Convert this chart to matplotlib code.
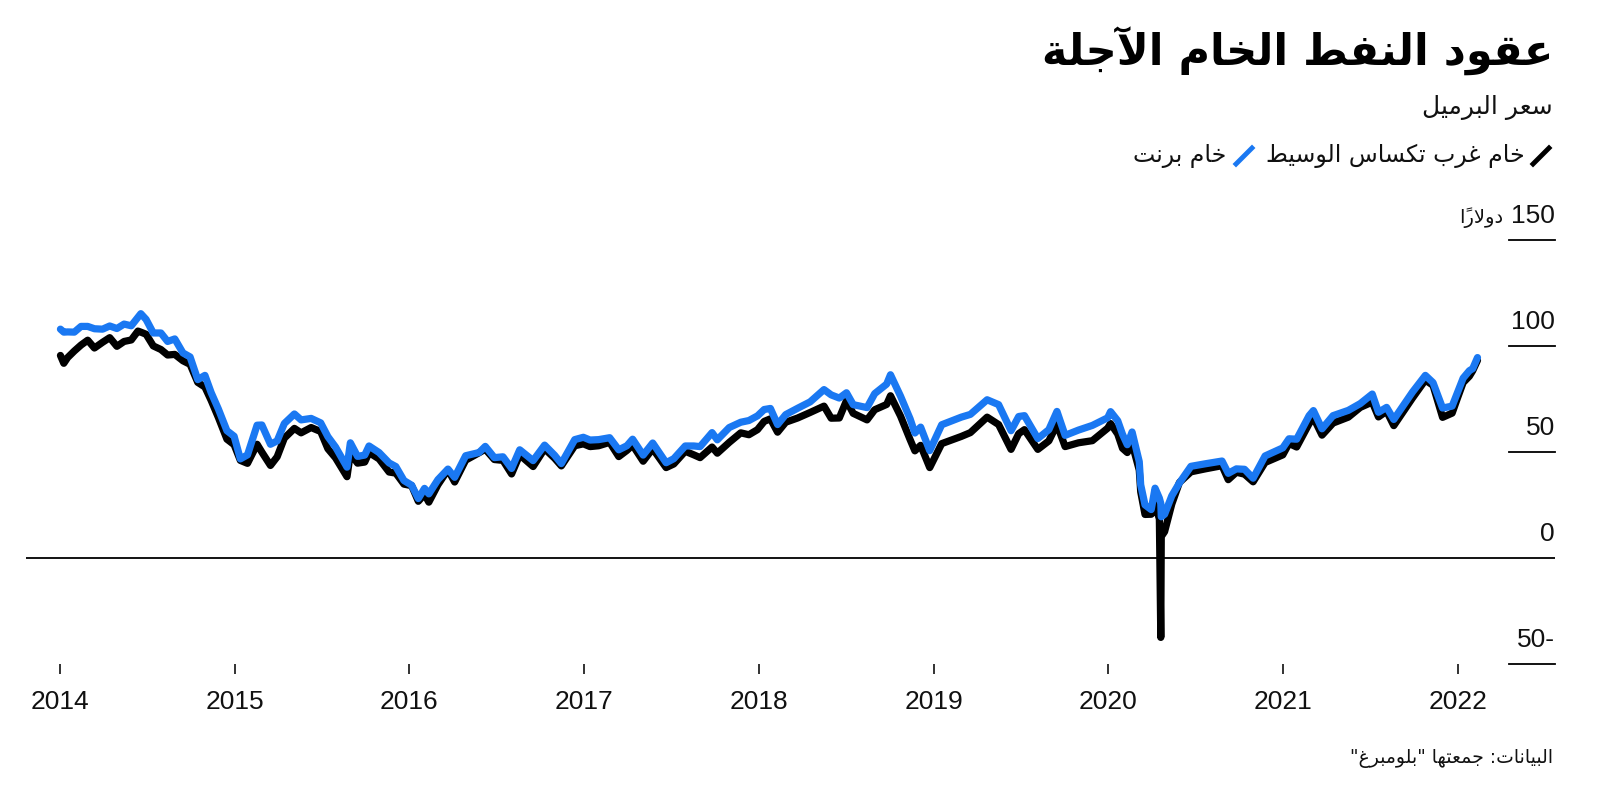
import matplotlib
matplotlib.use("Agg")
import matplotlib.pyplot as plt
import pandas as pd
from matplotlib.lines import Line2D

# ── texts ─────────────────────────────────────
TITLE    = "عقود النفط الخام الآجلة"
SUBTITLE = "سعر البرميل"
NAME_WTI   = "خام غرب تكساس الوسيط"
NAME_BRENT = "خام برنت"
UNIT     = "دولاراً"
SOURCE   = 'البيانات: جمعتها "بلومبرغ"'

# ── data (USD per barrel) ─
dates = [
    # 2014
    "2014-01-02", "2014-01-09", "2014-01-17", "2014-01-31", "2014-02-14", "2014-02-28",
    "2014-03-14", "2014-03-31", "2014-04-15", "2014-04-30", "2014-05-15", "2014-05-30",
    "2014-06-13", "2014-06-19", "2014-06-30", "2014-07-15", "2014-07-31", "2014-08-14",
    "2014-08-29", "2014-09-15", "2014-09-30", "2014-10-16", "2014-10-31", "2014-11-13",
    "2014-11-28", "2014-12-16", "2014-12-31",
    # 2015
    "2015-01-13", "2015-01-28", "2015-02-17", "2015-02-27", "2015-03-17", "2015-03-31",
    "2015-04-15", "2015-05-06", "2015-05-20", "2015-06-10", "2015-06-30", "2015-07-15",
    "2015-07-31", "2015-08-24", "2015-08-31", "2015-09-15", "2015-09-30", "2015-10-09",
    "2015-10-30", "2015-11-20", "2015-12-04", "2015-12-21",
    # 2016
    "2016-01-06", "2016-01-20", "2016-02-02", "2016-02-11", "2016-03-01", "2016-03-22",
    "2016-04-05", "2016-04-28", "2016-05-26", "2016-06-08", "2016-06-27", "2016-07-15",
    "2016-08-02", "2016-08-19", "2016-09-16", "2016-10-10", "2016-10-31", "2016-11-14",
    "2016-12-12", "2016-12-30",
    # 2017
    "2017-01-13", "2017-01-31", "2017-02-23", "2017-03-14", "2017-03-31", "2017-04-12",
    "2017-05-04", "2017-05-24", "2017-06-21", "2017-07-07", "2017-07-31", "2017-08-18",
    "2017-08-31", "2017-09-25", "2017-10-06", "2017-10-31", "2017-11-24", "2017-12-11",
    "2017-12-29",
    # 2018
    "2018-01-12", "2018-01-25", "2018-02-09", "2018-02-26", "2018-03-23", "2018-04-18",
    "2018-05-17", "2018-06-01", "2018-06-18", "2018-07-03", "2018-07-17", "2018-08-15",
    "2018-08-31", "2018-09-25", "2018-10-03", "2018-10-24", "2018-11-13", "2018-11-23",
    "2018-12-05", "2018-12-24",
    # 2019
    "2019-01-18", "2019-02-28", "2019-03-19", "2019-04-23", "2019-05-17", "2019-06-12",
    "2019-06-28", "2019-07-10", "2019-08-07", "2019-08-30", "2019-09-16", "2019-10-03",
    "2019-10-31", "2019-11-29", "2019-12-31",
    # 2020
    "2020-01-06", "2020-01-21", "2020-01-31", "2020-02-10", "2020-02-20", "2020-03-06",
    "2020-03-09", "2020-03-18", "2020-03-31", "2020-04-08", "2020-04-17", "2020-04-20",
    "2020-04-21", "2020-04-28", "2020-05-13", "2020-05-29", "2020-06-22", "2020-07-22",
    "2020-08-26", "2020-09-08", "2020-09-25", "2020-10-12", "2020-10-30", "2020-11-24",
    "2020-12-31",
    # 2021
    "2021-01-13", "2021-01-29", "2021-02-24", "2021-03-05", "2021-03-23", "2021-04-15",
    "2021-05-17", "2021-06-11", "2021-07-06", "2021-07-19", "2021-08-05", "2021-08-20",
    "2021-09-28", "2021-10-25", "2021-11-10", "2021-11-30", "2021-12-20", "2021-12-31",
    # 2022
    "2022-01-12", "2022-01-25", "2022-02-01", "2022-02-11",
]

wti = [
    # 2014
    95.4, 91.7, 94.4, 97.5, 100.3, 102.6,
    98.9, 101.6, 103.8, 99.7, 102.0, 102.7,
    106.9, 106.4, 105.4, 99.9, 98.2, 95.6,
    95.9, 92.9, 91.2, 82.7, 80.5, 74.2,
    66.2, 55.9, 53.3,
    # 2015
    45.9, 44.5, 53.5, 49.8, 43.5, 47.6,
    56.4, 61.0, 58.9, 61.4, 59.5, 51.4,
    47.1, 38.2, 49.2, 44.6, 45.1, 49.6,
    46.6, 40.4, 39.9, 34.7,
    # 2016
    34.0, 26.6, 29.9, 26.2, 34.4, 41.5,
    35.7, 46.0, 49.5, 51.2, 46.3, 45.9,
    39.5, 48.5, 43.0, 51.4, 46.9, 43.3,
    52.8, 53.7,
    # 2017
    52.4, 52.8, 54.4, 47.7, 50.6, 53.1,
    45.5, 51.4, 42.5, 44.2, 50.2, 48.5,
    47.2, 52.2, 49.3, 54.4, 58.9, 58.0,
    60.4,
    # 2018
    64.3, 65.5, 59.2, 63.9, 65.9, 68.5,
    71.5, 65.8, 65.9, 74.1, 68.1, 65.0,
    69.8, 72.3, 76.4, 66.8, 55.7, 50.4,
    53.0, 42.5,
    # 2019
    53.8, 57.2, 59.0, 66.3, 62.8, 51.1,
    58.5, 60.4, 51.1, 55.1, 62.9, 52.4,
    54.2, 55.2, 61.1,
    # 2020
    63.3, 58.3, 51.6, 49.6, 53.8, 41.3,
    31.1, 20.4, 20.5, 25.1, 18.3, -37.6,
    10.0, 12.3, 25.3, 35.5, 40.5, 41.9,
    43.4, 36.8, 40.3, 39.4, 35.8, 44.9,
    48.5,
    # 2021
    53.9, 52.2, 63.2, 66.1, 57.8, 63.5,
    66.3, 70.9, 73.4, 66.4, 69.1, 62.3,
    75.3, 83.8, 81.3, 66.2, 68.2, 75.2,
    # 2022
    82.6, 85.6, 88.2, 93.1,
]

brent = [
    # 2014
    107.8, 106.4, 106.5, 106.4, 109.1, 109.1,
    108.0, 107.8, 109.3, 108.1, 110.2, 109.4,
    113.4, 115.1, 112.4, 106.0, 106.0, 102.0,
    103.2, 96.6, 94.7, 84.0, 86.0, 77.9,
    70.2, 59.9, 57.3,
    # 2015
    46.6, 48.5, 62.5, 62.6, 53.5, 55.1,
    63.3, 67.8, 65.0, 65.7, 63.6, 57.1,
    52.2, 42.7, 54.2, 47.8, 48.4, 52.7,
    49.6, 44.7, 43.0, 36.4,
    # 2016
    34.2, 27.9, 32.7, 30.1, 36.8, 41.8,
    37.9, 48.1, 49.6, 52.5, 47.2, 47.6,
    42.1, 50.9, 45.8, 53.1, 48.3, 44.4,
    55.7, 56.8,
    # 2017
    55.5, 55.7, 56.6, 50.9, 52.8, 55.9,
    48.4, 54.1, 44.8, 46.7, 52.7, 52.7,
    52.4, 59.0, 55.6, 61.4, 63.9, 64.7,
    66.9,
    # 2018
    69.9, 70.4, 62.8, 67.5, 70.5, 73.5,
    79.3, 76.8, 75.3, 77.8, 72.2, 70.8,
    77.4, 81.9, 86.3, 76.2, 65.5, 58.8,
    61.6, 50.5,
    # 2019
    62.7, 66.3, 67.6, 74.5, 72.2, 59.9,
    66.6, 67.0, 56.2, 60.4, 69.0, 57.7,
    60.2, 62.4, 66.0,
    # 2020
    68.9, 64.6, 58.2, 53.3, 59.3, 45.3,
    34.4, 24.9, 22.7, 32.8, 28.1, 25.6,
    19.3, 20.5, 29.2, 35.3, 43.1, 44.3,
    45.6, 39.8, 41.9, 41.7, 37.5, 48.0,
    51.8,
    # 2021
    56.1, 55.9, 67.0, 69.4, 60.8, 67.0,
    69.5, 72.7, 77.2, 68.6, 70.9, 65.2,
    78.1, 86.0, 82.6, 70.6, 71.5, 77.8,
    # 2022
    84.7, 88.2, 89.2, 94.4,
]

y_ticks  = [150, 100, 50, 0, -50]
y_labels = ["150", "100", "50", "0", "50-"]
years    = list(range(2014, 2023))

BLACK = "#000000"
BLUE  = "#1a78f2"
NUM_FONT = "Liberation Sans"
AR_FONT  = "DejaVu Sans"

# ── tiny Arabic shaper (no reshaper lib available) ──
FORMS = {  # isolated, final, initial, medial
    "ا": ("\uFE8D", "\uFE8E", None, None),
    "آ": ("\uFE81", "\uFE82", None, None),
    "أ": ("\uFE83", "\uFE84", None, None),
    "ب": ("\uFE8F", "\uFE90", "\uFE91", "\uFE92"),
    "ة": ("\uFE93", "\uFE94", None, None),
    "ت": ("\uFE95", "\uFE96", "\uFE97", "\uFE98"),
    "ج": ("\uFE9D", "\uFE9E", "\uFE9F", "\uFEA0"),
    "خ": ("\uFEA5", "\uFEA6", "\uFEA7", "\uFEA8"),
    "د": ("\uFEA9", "\uFEAA", None, None),
    "ر": ("\uFEAD", "\uFEAE", None, None),
    "س": ("\uFEB1", "\uFEB2", "\uFEB3", "\uFEB4"),
    "ط": ("\uFEC1", "\uFEC2", "\uFEC3", "\uFEC4"),
    "ع": ("\uFEC9", "\uFECA", "\uFECB", "\uFECC"),
    "غ": ("\uFECD", "\uFECE", "\uFECF", "\uFED0"),
    "ف": ("\uFED1", "\uFED2", "\uFED3", "\uFED4"),
    "ق": ("\uFED5", "\uFED6", "\uFED7", "\uFED8"),
    "ك": ("\uFED9", "\uFEDA", "\uFEDB", "\uFEDC"),
    "ل": ("\uFEDD", "\uFEDE", "\uFEDF", "\uFEE0"),
    "م": ("\uFEE1", "\uFEE2", "\uFEE3", "\uFEE4"),
    "ن": ("\uFEE5", "\uFEE6", "\uFEE7", "\uFEE8"),
    "ه": ("\uFEE9", "\uFEEA", "\uFEEB", "\uFEEC"),
    "و": ("\uFEED", "\uFEEE", None, None),
    "ي": ("\uFEF1", "\uFEF2", "\uFEF3", "\uFEF4"),
}
LAM_ALEF = {"ا": ("\uFEFB", "\uFEFC"), "آ": ("\uFEF5", "\uFEF6"),
            "أ": ("\uFEF7", "\uFEF8")}
MARKS = "\u064B\u064C\u064D\u064E\u064F\u0650\u0651\u0652"


def is_ar(c):
    return c in FORMS or c.startswith("LA")


def joins_fwd(c):
    return c in FORMS and FORMS[c][2] is not None


def shape(text):
    """pick joined letter forms, return glyphs in left-to-right order"""
    items = []
    i = 0
    while i < len(text):
        c = text[i]
        if c == "ل" and i + 1 < len(text) and text[i + 1] in LAM_ALEF:
            items.append(["LA" + text[i + 1], ""])
            i += 2
            continue
        if c in MARKS and items:
            items[-1][1] += c
        else:
            items.append([c, ""])
        i += 1

    out = []
    for k, (c, marks) in enumerate(items):
        prev = items[k - 1][0] if k > 0 else None
        nxt = items[k + 1][0] if k + 1 < len(items) else None
        jp = prev is not None and joins_fwd(prev)
        if c.startswith("LA"):
            g = LAM_ALEF[c[2]][1 if jp else 0]
        elif c in FORMS:
            jn = joins_fwd(c) and nxt is not None and is_ar(nxt)
            f = FORMS[c]
            g = f[3] if (jp and jn) else f[1] if jp else f[2] if jn else f[0]
        else:
            g = c
        out.append(g + marks)
    return "".join(reversed(out))


# ══════════════════════════════════════════════
W, H = 1600, 791
fig = plt.figure(figsize=(W / 100, H / 100), dpi=100, facecolor="white")


def fx(px):
    return px / W


def fy(py):
    return 1 - py / H


# axes: left edge 26px, right 1555px, -50 at 663.7px, 2.12 px per dollar
AX_L, AX_R, AX_B, AX_T = 26, 1555, 663.7, 200
PX_PER_USD = 2.12
ax = fig.add_axes([fx(AX_L), fy(AX_B), (AX_R - AX_L) / W, (AX_B - AX_T) / H])
ax.set_ylim(-50, -50 + (AX_B - AX_T) / PX_PER_USD)
ax.set_xlim(pd.Timestamp("2013-10-22"), pd.Timestamp("2022-07-23"))

x = pd.to_datetime(dates)
ax.plot(x, wti, color=BLACK, lw=5.2, solid_joinstyle="round",
        solid_capstyle="round", zorder=3)
ax.plot(x, brent, color=BLUE, lw=5.2, solid_joinstyle="round",
        solid_capstyle="round", zorder=4)

# zero line across, short grid stubs at the right
ax.axhline(0, color="black", lw=1.3, zorder=2)
for v, lab in zip(y_ticks, y_labels):
    if v != 0:
        ax.axhline(v, xmin=(1509 - AX_L) / (AX_R - AX_L), xmax=1.0,
                   color="black", lw=1.3, clip_on=False)
    ax.annotate(lab, xy=(1.0, v), xycoords=("axes fraction", "data"),
                xytext=(0, 17), textcoords="offset pixels",
                ha="right", va="baseline", fontsize=19, family=NUM_FONT,
                color="#111111", annotation_clip=False)
ax.annotate(shape(UNIT), xy=(1.0, 150), xycoords=("axes fraction", "data"),
            xytext=(-AX_R + 1503, 17), textcoords="offset pixels",
            ha="right", va="baseline", fontsize=14, family=AR_FONT,
            color="#111111", annotation_clip=False)

ax.set_yticks([])
ax.set_xticks([pd.Timestamp(f"{y}-01-01") for y in years])
ax.set_xticklabels([str(y) for y in years], family=NUM_FONT, fontsize=19,
                   color="#111111")
ax.tick_params(axis="x", direction="out", length=7, width=1.3,
               color="#222222", pad=12)
for sp in ax.spines.values():
    sp.set_visible(False)
ax.patch.set_alpha(0)

# ── headings ─────────────────────────────────
fig.text(fx(1553), fy(51), shape(TITLE), ha="right", va="center",
         fontsize=31, fontweight="bold", family=AR_FONT, color="black")
fig.text(fx(1553), fy(108), shape(SUBTITLE), ha="right", va="center",
         fontsize=18, family=AR_FONT, color="#111111")

# legend: slash + label, right to left
fig.add_artist(Line2D([fx(1533), fx(1549)], [fy(164), fy(148)],
                      transform=fig.transFigure, color=BLACK, lw=3.5))
fig.text(fx(1525), fy(156), shape(NAME_WTI), ha="right", va="center",
         fontsize=17, family=AR_FONT, color="#111111")
fig.add_artist(Line2D([fx(1236), fx(1252)], [fy(164), fy(148)],
                      transform=fig.transFigure, color=BLUE, lw=3.5))
fig.text(fx(1226), fy(156), shape(NAME_BRENT), ha="right", va="center",
         fontsize=17, family=AR_FONT, color="#111111")

fig.text(fx(1553), fy(759), shape(SOURCE), ha="right", va="center",
         fontsize=13.5, family=AR_FONT, color="#111111")

fig.savefig("out.png", dpi=100, facecolor="white")
